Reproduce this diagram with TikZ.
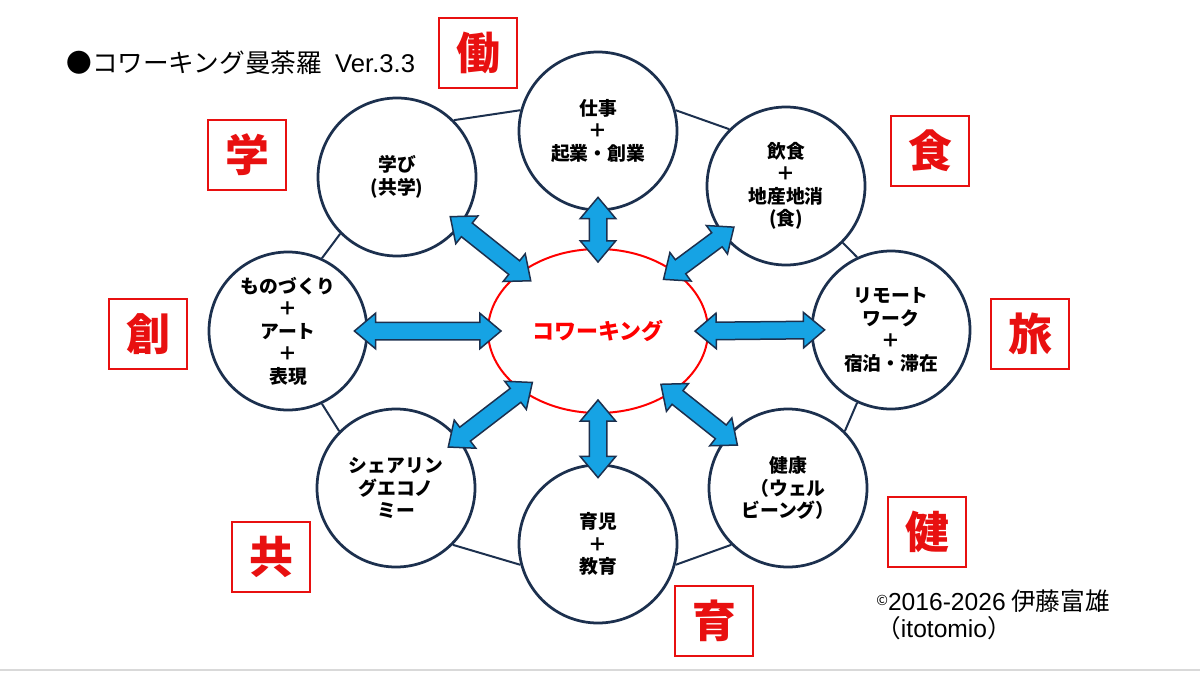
\documentclass[tikz,border=0pt]{standalone}
\usepackage{fontspec}
\setmainfont{Noto Sans CJK JP}
\newfontfamily\latinfont{Liberation Sans}
\usetikzlibrary{calc,shapes.geometric,shapes.arrows}

\definecolor{ringnavy}{RGB}{28,48,78}
\definecolor{arrowblue}{RGB}{22,163,228}
\definecolor{markred}{RGB}{232,16,16}

\begin{document}
\begin{tikzpicture}[
    x=0.2mm, y=-0.2mm,
    align=center,
    font=\bfseries\fontsize{10.7}{12.8}\selectfont,
    theme/.style={circle, minimum size=31.6mm, inner sep=0pt, line width=0.55mm, draw=ringnavy, fill=white},
    core/.style={ellipse, minimum width=44mm, minimum height=32.8mm, line width=0.4mm, draw=red, fill=white, text=red,
                 font=\bfseries\fontsize{12.5}{15}\selectfont},
    kanji/.style={rectangle, minimum width=15.6mm, minimum height=14mm, line width=0.45mm, draw=markred, text=markred,
                  font=\bfseries\fontsize{25}{25}\selectfont},
    ring/.style={ringnavy, line width=0.4mm},
    dblarrow/.style={double arrow, draw=ringnavy, fill=arrowblue, line width=0.3mm, inner xsep=0pt, inner ysep=1.6mm,
                     double arrow head extend=1.8mm, double arrow tip angle=80},
    bigarrow/.style={to path={let \p1=(\tikztostart), \p2=(\tikztotarget),
                     \n1={atan2(\y2-\y1,\x2-\x1)}, \n2={veclen(\x2-\x1,\y2-\y1)+5.6mm} in
                     node[dblarrow, minimum height=\n2, rotate=\n1] at ($(\p1)!0.5!(\p2)$) {}}}
  ]
  \useasboundingbox (0,0) rectangle (1200,672);

  \node (title)      [anchor=west, inner sep=0pt, font=\mdseries\fontsize{14.6}{16}\selectfont] at (66,63)
                                                     {●コワーキング曼荼羅\hspace{2.6mm}{\latinfont Ver.3.3}};

  \node (cowork)     [core]   at (598,331)          {コワーキング};

  \node (shigoto)    [theme]  at (598,131)          {仕事\\＋\\起業・創業};
  \node (inshoku)    [theme]  at (786,186)          {飲食\\＋\\地産地消\\(食)};
  \node (remote)     [theme]  at (891,330)          {リモート\\ワーク\\＋\\宿泊・滞在};
  \node (kenko)      [theme]  at (788,488)          {健康\\（ウェル\\ビーング）};
  \node (ikuji)      [theme]  at (598,544)          {育児\\＋\\教育};
  \node (sharing)    [theme]  at (396,488)          {シェアリン\\グエコノ\\ミー};
  \node (monozukuri) [theme]  at (288,331)          {ものづくり\\＋\\アート\\＋\\表現};
  \node (manabi)     [theme]  at (397,177)          {学び\\(共学)};

  \node (hataraku)   [kanji]  at (478,53)           {働};
  \node (shoku)      [kanji]  at (930,151)          {食};
  \node (tabi)       [kanji]  at (1030,334)         {旅};
  \node (ken)        [kanji]  at (927,532)          {健};
  \node (iku)        [kanji]  at (714,621)          {育};
  \node (kyo)        [kanji]  at (271,557)          {共};
  \node (so)         [kanji]  at (148,334)          {創};
  \node (gaku)       [kanji]  at (247,155)          {学};

  \node (credit)     [anchor=north west, inner sep=0pt, align=left, font=\mdseries\fontsize{14}{15.5}\selectfont] at (876,589)
                     {\raisebox{0.35ex}{\fontsize{8}{8}\selectfont ©}{\latinfont 2016-2026} 伊藤富雄\\（{\latinfont itotomio}）};

  \draw[ring] (manabi.45)     -- (shigoto.165)
              (shigoto.15)    -- (inshoku.135)
              (inshoku.-45)   -- (remote.115)
              (remote.245)    -- (kenko.45)
              (kenko.225)     -- (ikuji.-15)
              (ikuji.195)     -- (sharing.-45)
              (sharing.135)   -- (monozukuri.-65)
              (monozukuri.65) -- (manabi.225);

  \path (cowork.90)  to[bigarrow] (shigoto.-90);
  \path (cowork.38)  to[bigarrow] (inshoku.218);
  \path (cowork.0)   to[bigarrow] (remote.180);
  \path (cowork.-40) to[bigarrow] (kenko.140);
  \path (cowork.-90) to[bigarrow] (ikuji.90);
  \path (cowork.218) to[bigarrow] (sharing.38);
  \path (cowork.180) to[bigarrow] (monozukuri.0);
  \path (cowork.143) to[bigarrow] (manabi.-37);

  \draw[gray!30, line width=0.3mm] (0,670) -- (1200,670);
\end{tikzpicture}
\end{document}
